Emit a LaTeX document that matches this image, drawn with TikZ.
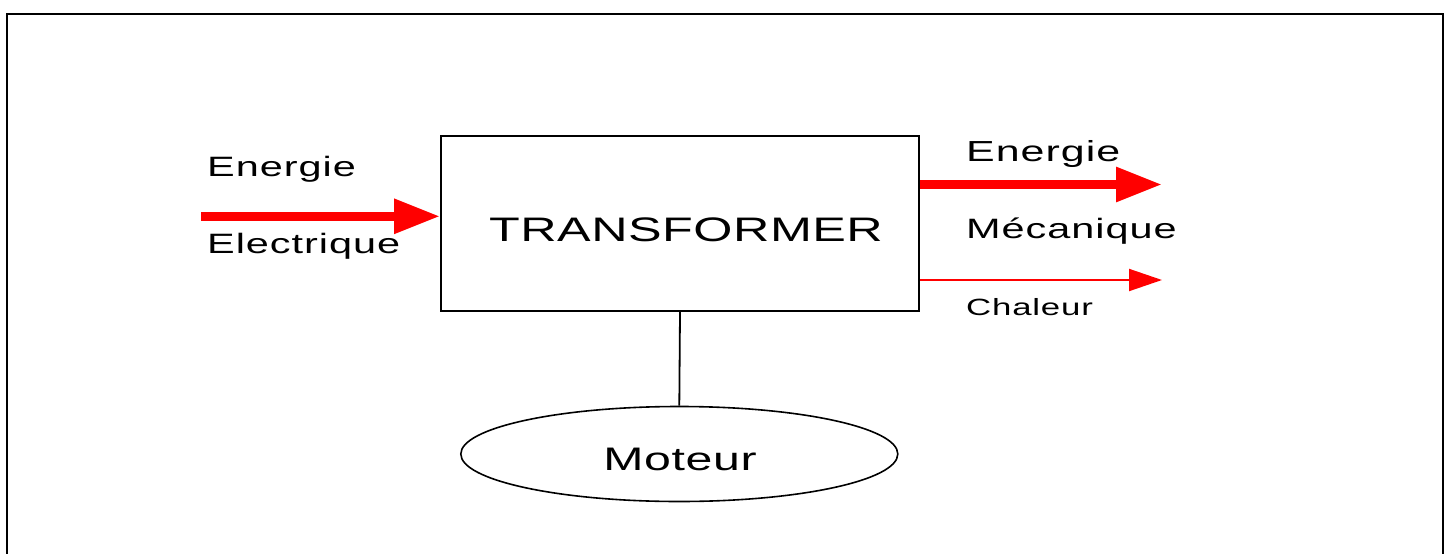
\documentclass[tikz,border=0pt]{standalone}
\usepackage{fontspec}
\setmainfont{Liberation Sans}[FakeStretch=1.48]
\usetikzlibrary{arrows.meta,shapes.geometric}
\begin{document}
\begin{tikzpicture}[x=1pt,y=-1pt,
  lbl/.style={inner sep=0pt, anchor=base west, font=\fontsize{28}{30}\selectfont\addfontfeature{LetterSpace=3.5}},
  ctext/.style={inner sep=0pt, anchor=base},
  bigarrow/.style={draw=red, line width=9pt, -{Triangle[length=46pt,width=33pt,fill=red]}},
  thinarrow/.style={draw=red, line width=2pt, -{Triangle[length=33pt,width=22pt,fill=red]}},
  frame/.style={line width=2pt},
  ]
\useasboundingbox (0,0) rectangle (1451,554);
\fill[white] (0,0) rectangle (1451,554);
\draw[frame] (7,556) -- (7,13.5) -- (1443,13.5) -- (1443,556);
% main box
\node[draw, line width=2pt, minimum width=478pt, minimum height=175pt, inner sep=0pt] (tr) at (680,223.5) {};
\node[ctext, font=\fontsize{34}{36}\selectfont\addfontfeature{LetterSpace=1.5}] (trt) at (686,241.7) {TRANSFORMER};
% ellipse
\node[draw, ellipse, line width=1.6pt, minimum width=437pt, minimum height=95pt, inner sep=0pt] (mot) at (679.3,454) {};
\node[ctext, font=\fontsize{32.6}{34}\selectfont\addfontfeature{LetterSpace=2}] (mt) at (680,470) {Moteur};
\draw[line width=1.8pt] (tr.south) -- (mot.north);
% arrows
\coordinate (ls) at (201,216.3);
\draw[bigarrow] (ls) -- (ls -| tr.west);
\coordinate (re1) at (1162,184.5);
\draw[bigarrow] (re1 -| tr.east) -- (re1);
\coordinate (re2) at (1162,280);
\draw[thinarrow] (re2 -| tr.east) -- (re2);
% labels
\node[lbl] (e1) at (207,176.7) {Energie};
\node[lbl] (e2) at (207,253.3) {Electrique};
\node[lbl, font=\fontsize{29}{31}\selectfont\addfontfeature{LetterSpace=3.5}] (e3) at (966,161.7) {Energie};
\node[lbl] (e4) at (966,238.3) {Mécanique};
\node[lbl, font=\fontsize{23.5}{25}\selectfont\addfontfeature{LetterSpace=3.5}] (ch) at (966,315) {Chaleur};
\end{tikzpicture}
\end{document}
